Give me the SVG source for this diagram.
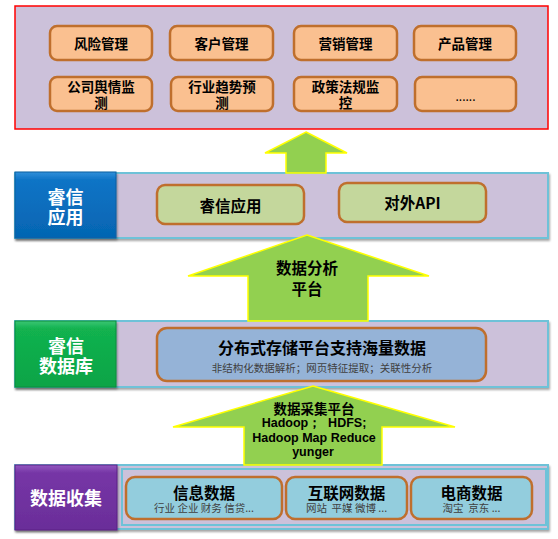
<svg xmlns="http://www.w3.org/2000/svg" width="558" height="539" viewBox="0 0 558 539">
<defs>
<filter id="sh" x="-5%" y="-10%" width="112%" height="130%">
<feDropShadow dx="1" dy="2" stdDeviation="1.2" flood-color="#000" flood-opacity="0.35"/>
</filter>
<linearGradient id="gBlue" x1="0" y1="0" x2="0" y2="1">
<stop offset="0" stop-color="#2F8FDA"/><stop offset="0.12" stop-color="#0D74C6"/><stop offset="1" stop-color="#0565B2"/>
</linearGradient>
<linearGradient id="gGreen" x1="0" y1="0" x2="0" y2="1">
<stop offset="0" stop-color="#3BC673"/><stop offset="0.12" stop-color="#12B24F"/><stop offset="1" stop-color="#0BA446"/>
</linearGradient>
<linearGradient id="gPurple" x1="0" y1="0" x2="0" y2="1">
<stop offset="0" stop-color="#9357C0"/><stop offset="0.12" stop-color="#7636A6"/><stop offset="1" stop-color="#6A2D99"/>
</linearGradient>
</defs>
<style>
text{font-family:"Noto Sans CJK SC","Liberation Sans",sans-serif;text-anchor:middle;dominant-baseline:central}
.band{fill:#CCC1DA;stroke:#6EC2D8;stroke-width:2}
.org{fill:#FAC090;stroke:#BF6F2D;stroke-width:2.5}
.grn{fill:#C4D79C;stroke:#BF6F2D;stroke-width:2.5}
.blu{fill:#95B3D7;stroke:#BF6F2D;stroke-width:2.5}
.lbl{fill:#93CDDD;stroke:#BF6F2D;stroke-width:2.5}
.t1{font-size:13.5px;font-weight:bold;fill:#000}
.tw{font-size:18px;font-weight:bold;fill:#fff}
.tm{font-size:15.5px;font-weight:bold;fill:#000}
.ts{font-size:10.5px;fill:#404040;white-space:pre}
.arr{fill:#92D050;stroke:#FFFF00;stroke-width:1.5}
.ta{font-size:15.5px;font-weight:bold;fill:#000}
.tc{font-size:13.5px;font-weight:bold;fill:#000;white-space:pre}
.tl{font-family:"Liberation Sans",sans-serif;font-size:12.5px}
</style>

<g id="top-apps">
<rect x="15" y="6" width="533" height="123" fill="#CCC1DA" stroke="#FF0000" stroke-width="1.5"/>
<g id="n-risk"><rect class="org" x="50" y="26" width="102" height="34" rx="7"/><text class="t1" x="101" y="43">风险管理</text></g>
<g id="n-customer"><rect class="org" x="170" y="26" width="103" height="34" rx="7"/><text class="t1" x="221.5" y="43">客户管理</text></g>
<g id="n-marketing"><rect class="org" x="294" y="26" width="103" height="34" rx="7"/><text class="t1" x="345.5" y="43">营销管理</text></g>
<g id="n-product"><rect class="org" x="414" y="26" width="102" height="34" rx="7"/><text class="t1" x="465" y="43">产品管理</text></g>
<g id="n-opinion"><rect class="org" x="50" y="77" width="102" height="34" rx="7"/><text class="t1"><tspan x="101" y="86">公司舆情监</tspan><tspan x="101" y="102">测</tspan></text></g>
<g id="n-trend"><rect class="org" x="171" y="77" width="102" height="34" rx="7"/><text class="t1"><tspan x="222" y="86">行业趋势预</tspan><tspan x="222" y="102">测</tspan></text></g>
<g id="n-policy"><rect class="org" x="294" y="77" width="103" height="34" rx="7"/><text class="t1"><tspan x="345.5" y="86">政策法规监</tspan><tspan x="345.5" y="102">控</tspan></text></g>
<g id="n-more"><rect class="org" x="415" y="77" width="101" height="34" rx="7"/><text class="t1" x="465.5" y="95" style="font-weight:normal;font-size:12px">......</text></g>
</g>

<g id="layer-app">
<rect class="band" x="15" y="173" width="533" height="65" filter="url(#sh)"/>
<g id="n-app-label"><rect x="15" y="172" width="101" height="66" fill="url(#gBlue)" stroke="#0A5EA0" stroke-width="1" filter="url(#sh)"/><text class="tw"><tspan x="65.5" y="196">睿信</tspan><tspan x="65.5" y="216">应用</tspan></text></g>
<g id="n-app"><rect class="grn" x="157" y="185" width="147" height="39" rx="8"/><text class="tm" x="230.5" y="205">睿信应用</text></g>
<g id="n-api"><rect class="grn" x="339" y="183" width="147" height="39" rx="8"/><text class="tm" x="412.5" y="202">对外API</text></g>
</g>

<g id="layer-db">
<rect class="band" x="15" y="321" width="533" height="66" filter="url(#sh)"/>
<g id="n-db-label"><rect x="15" y="321" width="101" height="66" fill="url(#gGreen)" stroke="#0B8E3D" stroke-width="1" filter="url(#sh)"/><text class="tw"><tspan x="66" y="345">睿信</tspan><tspan x="66" y="365">数据库</tspan></text></g>
<g id="n-storage"><rect class="blu" x="157" y="328" width="329" height="53" rx="10"/><text class="tm" x="322" y="347" style="font-size:16px">分布式存储平台支持海量数据</text><text class="ts" x="322" y="367">非结构化数据解析；网页特征提取；关联性分析</text></g>
</g>

<g id="layer-collect">
<rect class="band" x="15" y="465" width="533" height="64" filter="url(#sh)"/>
<rect class="band" x="122" y="469" width="424" height="56"/>
<g id="n-collect-label"><rect x="15" y="465" width="102" height="65" fill="url(#gPurple)" stroke="#5A2384" stroke-width="1" filter="url(#sh)"/><text class="tw" x="66" y="497">数据收集</text></g>
<g id="n-info"><rect class="lbl" x="126" y="477" width="156" height="42" rx="9"/><text class="tm" x="204" y="491.5">信息数据</text><text class="ts" x="204" y="507.5">行业 企业 财务 信贷...</text></g>
<g id="n-web"><rect class="lbl" x="286" y="477" width="121" height="42" rx="9"/><text class="tm" x="346.5" y="491.5">互联网数据</text><text class="ts" x="346.5" y="507.5">网站  平媒 微博 ...</text></g>
<g id="n-ecom"><rect class="lbl" x="411" y="477" width="121" height="42" rx="9"/><text class="tm" x="471.5" y="491.5">电商数据</text><text class="ts" x="471.5" y="507.5">淘宝  京东 ...</text></g>
</g>

<g id="connectors">
<polygon class="arr" points="306,132 347,153 326,153 326,173 286,173 286,153 265,153"/>
<polygon class="arr" points="307,235 429,276 368,276 368,321 248,321 248,276 188,276"/>
<text class="ta"><tspan x="307" y="267">数据分析</tspan><tspan x="307" y="288">平台</tspan></text>
<polygon class="arr" points="313,386 455,427 382,427 382,465 244,465 244,427 173,427"/>
<text class="tc"><tspan x="314" y="407.5">数据采集平台</tspan><tspan class="tl" x="314" y="423">Hadoop；  HDFS;</tspan><tspan class="tl" x="314" y="437.5">Hadoop Map Reduce</tspan><tspan class="tl" x="313" y="452">yunger</tspan></text>
</g>
</svg>
